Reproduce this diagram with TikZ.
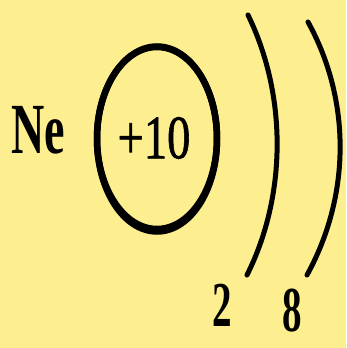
\documentclass[tikz,border=0pt]{standalone}
\usepackage{fontspec}
\setmainfont{Liberation Serif}
\newfontfamily\heavyserif[FakeBold=1.2]{Liberation Serif}
\definecolor{bg}{HTML}{FDEE8F}
\begin{document}
\begin{tikzpicture}[x=1pt,y=-1pt,
  lbl/.style={inner sep=0pt,font=\fontsize{72}{72}\selectfont\bfseries,xscale=0.64},
  digit/.style={inner sep=0pt,font=\fontsize{64}{64}\selectfont\bfseries,xscale=0.61},
  charge/.style={inner sep=0pt,font=\fontsize{62}{62}\selectfont\heavyserif,xscale=0.75},
  shell/.style={line width=5pt,line cap=round},
  ring/.style={line width=6.5pt}]
\fill[bg] (0,0) rectangle (346,348);
\useasboundingbox (0,0) rectangle (346,348);
\node[lbl] (ne) at (38,130) {Ne};
\draw[ring] (157,138) ellipse [x radius=60, y radius=91];
\draw[ring] (157,139) ellipse [x radius=60, y radius=92.5];
\node[charge] (q) at (154,138) {+10};
\draw[shell] (248,15) .. controls (287,95) and (287,195) .. (247,275);
\draw[shell] (308,22) .. controls (351,100) and (351,195) .. (307,275);
\node[digit] (n2) at (222,305) {2};
\node[digit] (n8) at (292,311) {8};
\end{tikzpicture}
\end{document}
